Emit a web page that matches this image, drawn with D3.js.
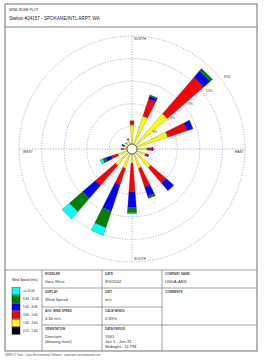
<!DOCTYPE html>
<html>
<head>
<meta charset="utf-8">
<script src="https://cdn.jsdelivr.net/npm/d3@7"></script>
<style>
body { margin: 0; background: #fff; }
text { font-family: "Liberation Sans", Arial, sans-serif; }
</style>
</head>
<body>
<div class="chart"></div>
<script>
var w = 264;
var h = 364;

// 16 compass directions (degrees, blowing from)
var directions = [0, 22.5, 45, 67.5, 90, 112.5, 135, 157.5, 180, 202.5, 225, 247.5, 270, 292.5, 315, 337.5];

// frequency (%) per speed class, one value per direction
var bin1 = [0.3, 0.3, 0.3, 0.3, 0.3, 0.3, 0.3, 0.3, 0.3, 0.3, 0.3, 0.3, 0.3, 0.3, 0.3, 0.3];   // 0.51 - 1.80
var bin2 = [2.9, 4.3, 5.9, 4.7, 1.7, 1.6, 3.0, 2.4, 1.6, 2.4, 2.6, 1.7, 0.8, 0.8, 0.8, 1.0];   // 1.80 - 3.60
var bin3 = [0.5, 2.4, 6.4, 2.7, 0.7, 0.4, 2.7, 2.6, 3.8, 2.3, 3.5, 0.9, 0.3, 0.0, 0.0, 0.1];   // 3.60 - 5.40
var bin4 = [0.0, 0.4, 1.1, 0.8, 0.1, 0.0, 1.3, 1.3, 2.1, 3.7, 2.3, 0.8, 0.0, 0.3, 0.0, 0.0];   // 5.40 - 8.49
var bin5 = [0.0, 0.15, 0.4, 0.0, 0.0, 0.0, 0.0, 0.3, 0.7, 2.3, 2.3, 0.4, 0.0, 0.0, 0.0, 0.0];  // 8.49 - 11.06
var bin6 = [0.0, 0.0, 0.0, 0.0, 0.0, 0.0, 0.0, 0.0, 0.15, 1.1, 1.3, 0.4, 0.0, 0.0, 0.0, 0.0];  // >= 11.06

var binLabels = ["0.51 - 1.80", "1.80 - 3.60", "3.60 - 5.40", "5.40 - 8.49", "8.49 - 11.06", ">= 11.06"];
var binColors = ["#000000", "#ffff00", "#ff0000", "#0000ff", "#008000", "#00ffff"];

var ringTicks = [3, 6, 9, 12, 15];
var compassLabels = ["NORTH", "EAST", "SOUTH", "WEST"];

var svg = d3.select(".chart")
            .append("svg")
            .attr("width", w)
            .attr("height", h);

svg.append("rect").attr("width", w).attr("height", h).attr("fill", "#fff");

// ---- rose ----
var cx = 132, cy = 149;
var r = d3.scaleLinear().domain([0, 15]).range([0, 113]);

var rose = svg.append("g").attr("transform", "translate(" + cx + "," + cy + ")");

rose.selectAll("circle.ring")
    .data(ringTicks)
    .enter()
    .append("circle")
    .attr("class", "ring")
    .attr("r", function(d) { return r(d); })
    .attr("fill", "none")
    .attr("stroke", "#8a8ad0")
    .attr("stroke-width", 0.8)
    .attr("stroke-dasharray", "1,1.6");

rose.append("line").attr("x1", -r(15)).attr("x2", r(15))
    .attr("stroke", "#8a8ad0").attr("stroke-width", 0.8).attr("stroke-dasharray", "1,1.6");
rose.append("line").attr("y1", -r(15)).attr("y2", r(15))
    .attr("stroke", "#8a8ad0").attr("stroke-width", 0.8).attr("stroke-dasharray", "1,1.6");

// stacked petals
var table = directions.map(function(d, i) {
    return { dir: d, b0: bin1[i], b1: bin2[i], b2: bin3[i], b3: bin4[i], b4: bin5[i], b5: bin6[i] };
});
var keys = ["b0", "b1", "b2", "b3", "b4", "b5"];
var stack = d3.stack().keys(keys)(table);

var halfW = 4.2 * Math.PI / 180;
function petal(dir, v0, v1) {
    var a = dir * Math.PI / 180;
    var r0 = r(v0), r1 = r(v1);
    var pts = [
        [r0 * Math.sin(a - halfW), -r0 * Math.cos(a - halfW)],
        [r1 * Math.sin(a - halfW), -r1 * Math.cos(a - halfW)],
        [r1 * Math.sin(a + halfW), -r1 * Math.cos(a + halfW)],
        [r0 * Math.sin(a + halfW), -r0 * Math.cos(a + halfW)]
    ];
    return "M" + pts.join("L") + "Z";
}

rose.selectAll("g.layer")
    .data(stack)
    .enter()
    .append("g")
    .attr("class", "layer")
    .attr("fill", function(d, i) { return binColors[i]; })
    .selectAll("path")
    .data(function(d) { return d; })
    .enter()
    .append("path")
    .attr("d", function(d) { return petal(d.data.dir, d[0], d[1]); })
    .attr("stroke", "#333")
    .attr("stroke-width", 0.25);

// calm circle
rose.append("circle").attr("r", 5).attr("fill", "#fff").attr("stroke", "#000").attr("stroke-width", 0.6);

// ring labels
rose.selectAll("text.rlab")
    .data(ringTicks)
    .enter()
    .append("text")
    .attr("class", "rlab")
    .attr("x", function(d) { return (r(d) + 3) * Math.cos(-38 * Math.PI / 180); })
    .attr("y", function(d) { return (r(d) + 3) * Math.sin(-38 * Math.PI / 180); })
    .attr("font-size", 3.4)
    .attr("fill", "#333")
    .text(function(d) { return d + "%"; });

// compass labels
var R = r(15);
var compassPos = [[2, -R + 4], [R - 10, 4], [2, R - 2], [-R + 4, 4]];
rose.selectAll("text.comp")
    .data(compassLabels)
    .enter()
    .append("text")
    .attr("class", "comp")
    .attr("x", function(d, i) { return compassPos[i][0]; })
    .attr("y", function(d, i) { return compassPos[i][1]; })
    .attr("font-size", 3.4)
    .attr("fill", "#333")
    .text(function(d) { return d; });

// ---- frame and header ----
var border = "#888";
svg.append("rect").attr("x", 5).attr("y", 4).attr("width", 252).attr("height", 347)
    .attr("fill", "none").attr("stroke", border).attr("stroke-width", 1.2);
svg.append("line").attr("x1", 5).attr("x2", 257).attr("y1", 27).attr("y2", 27)
    .attr("stroke", border).attr("stroke-width", 1.2);

svg.append("text").attr("x", 9).attr("y", 11).attr("font-size", 3.4).attr("fill", "#222").text("WIND ROSE PLOT:");
svg.append("text").attr("x", 9).attr("y", 20).attr("font-size", 4.6).attr("fill", "#222").text("Station #24157 - SPOKANE/INTL ARPT, WA");

// ---- bottom table ----
var lines = [
    [5, 270, 257, 270],
    [42, 270, 42, 351], [102, 270, 102, 351], [162, 270, 162, 351],
    [42, 288, 257, 288], [42, 307, 162, 307], [42, 325, 257, 325]
];
svg.selectAll("line.tab")
    .data(lines)
    .enter()
    .append("line")
    .attr("class", "tab")
    .attr("x1", function(d) { return d[0]; }).attr("y1", function(d) { return d[1]; })
    .attr("x2", function(d) { return d[2]; }).attr("y2", function(d) { return d[3]; })
    .attr("stroke", border).attr("stroke-width", 0.8);

var cellTitles = ["MODELER", "DATE", "COMPANY NAME", "DISPLAY", "UNIT", "COMMENTS", "AVG. WIND SPEED", "CALM WINDS", "ORIENTATION", "DATA PERIOD"];
var cellValues = [["Sara West"], ["9/6/2002"], ["USDA-ARS"], ["Wind Speed"], ["m/s"], [], ["4.60 m/s"], ["0.83%"], ["Direction", "(blowing from)"], ["1961", "Jan 1 - Jan 31", "Midnight - 11 PM"]];
var cellPos = [[45, 273], [105, 273], [165, 273], [45, 291], [105, 291], [165, 291], [45, 310], [105, 310], [45, 328], [105, 328]];

cellTitles.forEach(function(t, i) {
    svg.append("text").attr("x", cellPos[i][0]).attr("y", cellPos[i][1] + 2.3)
        .attr("font-size", 3.0).attr("font-weight", "bold").attr("fill", "#444").text(t);
    cellValues[i].forEach(function(v, j) {
        svg.append("text").attr("x", cellPos[i][0]).attr("y", cellPos[i][1] + 9.5 + j * 5)
            .attr("font-size", 4.2).attr("fill", "#333").text(v);
    });
});

// legend
svg.append("text").attr("x", 12).attr("y", 281).attr("font-size", 3.2).attr("fill", "#222").text("Wind Speed (m/s)");
var legendOrder = d3.range(binLabels.length).reverse();
var ly = d3.scaleBand().domain(legendOrder).range([287, 335]).padding(0.1);
svg.selectAll("rect.leg")
    .data(legendOrder)
    .enter()
    .append("rect")
    .attr("class", "leg")
    .attr("x", 12)
    .attr("y", function(d) { return ly(d); })
    .attr("width", 8)
    .attr("height", ly.bandwidth())
    .attr("fill", function(d) { return binColors[d]; })
    .attr("stroke", "#000").attr("stroke-width", 0.4);
svg.selectAll("text.leg")
    .data(legendOrder)
    .enter()
    .append("text")
    .attr("class", "leg")
    .attr("x", 23)
    .attr("y", function(d) { return ly(d) + ly.bandwidth() / 2 + 1.1; })
    .attr("font-size", 3.0)
    .attr("fill", "#222")
    .text(function(d) { return binLabels[d]; });

// footer
svg.append("text").attr("x", 5).attr("y", 355.5).attr("font-size", 2.7).attr("fill", "#555")
    .text("WRPLOT View - Lakes Environmental Software - www.lakes-environmental.com");
</script>
</body>
</html>
